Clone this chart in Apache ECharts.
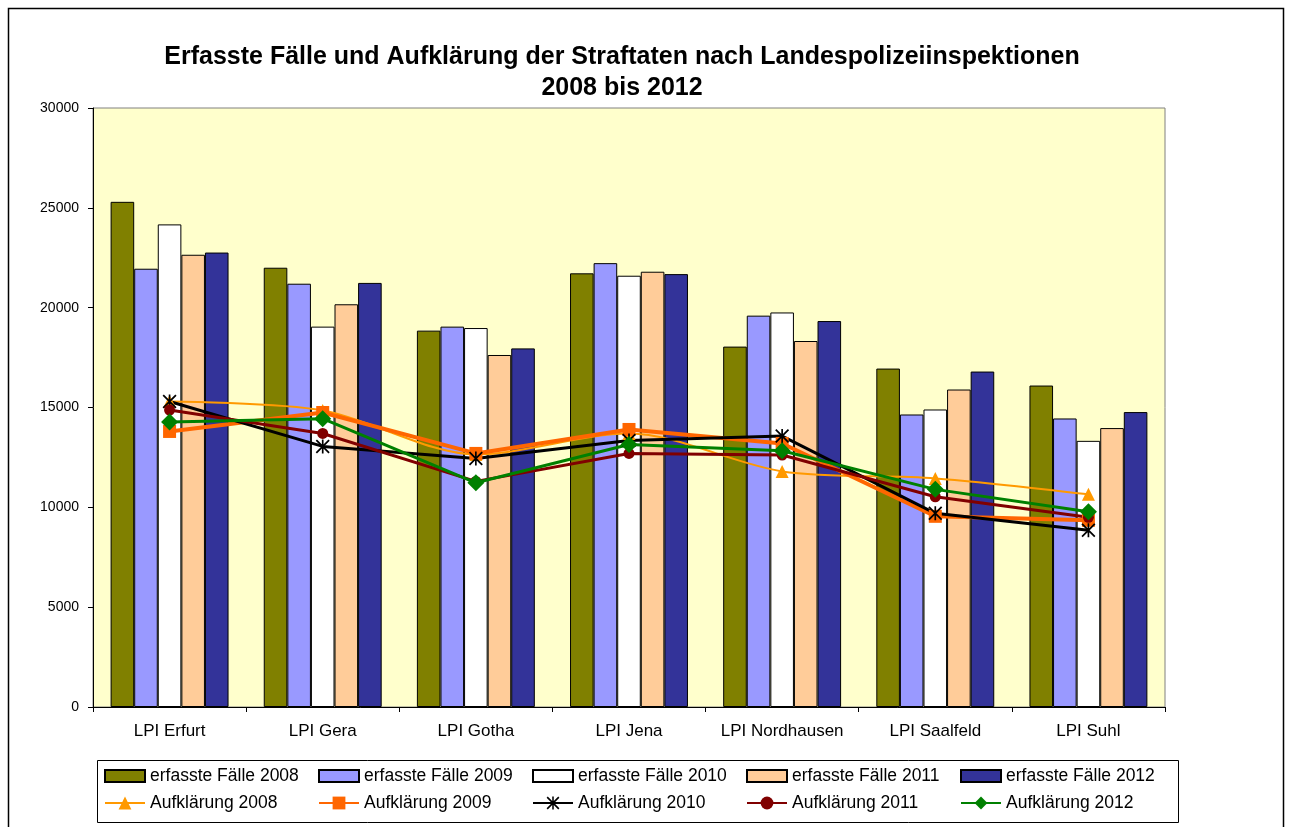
<!DOCTYPE html>
<html>
<head>
<meta charset="utf-8">
<script src="https://cdn.jsdelivr.net/npm/echarts@6/dist/echarts.min.js"></script>
<style>
html,body{margin:0;padding:0;background:#fff;}
#chart{width:1291px;height:827px;}
</style>
</head>
<body>
<div id="chart"></div>
<script>
var categories = ['LPI Erfurt','LPI Gera','LPI Gotha','LPI Jena','LPI Nordhausen','LPI Saalfeld','LPI Suhl'];
var faelle2008 = [25300, 22000, 18850, 21720, 18050, 16950, 16100];
var faelle2009 = [21950, 21200, 19050, 22230, 19600, 14650, 14450];
var faelle2010 = [24170, 19050, 18980, 21600, 19760, 14900, 13330];
var faelle2011 = [22650, 20170, 17630, 21800, 18330, 15900, 13970];
var faelle2012 = [22760, 21240, 17960, 21680, 19330, 16800, 14770];
var aufkl2008 = [15300, 14850, 12650, 13700, 11800, 11450, 10650];
var aufkl2009 = [13800, 14750, 12700, 13900, 13200, 9550, 9350];
var aufkl2010 = [15300, 13050, 12450, 13350, 13570, 9700, 8850];
var aufkl2011 = [14870, 13700, 11300, 12700, 12620, 10530, 9500];
var aufkl2012 = [14270, 14440, 11230, 13150, 12830, 10900, 9780];
var barNames = ['erfasste Fälle 2008','erfasste Fälle 2009','erfasste Fälle 2010','erfasste Fälle 2011','erfasste Fälle 2012'];
var lineNames = ['Aufklärung 2008','Aufklärung 2009','Aufklärung 2010','Aufklärung 2011','Aufklärung 2012'];

var FONT = "'Liberation Sans', Arial, sans-serif";
var starPath = 'path://M4.4 0 L5.6 0 L5.6 10 L4.4 10 Z M0 0.9 L0.9 0 L10 9.1 L9.1 10 Z M9.1 0 L10 0.9 L0.9 10 L0 9.1 Z';

function bar(name, data, color) {
  return {
    name: name, type: 'bar', data: data, barGap: '0%', barCategoryGap: '23%',
    itemStyle: { color: color, borderColor: '#000', borderWidth: 1 },
    emphasis: { disabled: true }
  };
}
function line(name, data, color, width, symbol, size, smooth) {
  return {
    name: name, type: 'line', data: data, smooth: smooth || false,
    symbol: symbol, symbolSize: size, z: 5,
    lineStyle: { color: color, width: width },
    itemStyle: { color: color, borderColor: color, borderWidth: 0 },
    emphasis: { disabled: true }
  };
}

var legendText = { fontFamily: FONT, fontSize: 17.5, color: '#000' };
var legends = [];
barNames.forEach(function (n, i) {
  legends.push({ data: [{ name: n, icon: 'rect', itemStyle: { borderWidth: 2, borderColor: '#000' } }], left: 104 + 214 * i, top: 767, padding: 0, itemGap: 0, itemWidth: 40, itemHeight: 12, textStyle: legendText, selectedMode: false });
});
lineNames.forEach(function (n, i) {
  legends.push({ data: [n], left: 104 + 214 * i, top: 794, padding: 0, itemWidth: 40, itemHeight: 16, textStyle: legendText, selectedMode: false });
});

var chart = echarts.init(document.getElementById('chart'), null, { renderer: 'canvas' });
chart.setOption({
  animation: false,
  backgroundColor: '#fff',
  title: {
    text: 'Erfasste Fälle und Aufklärung der Straftaten nach Landespolizeiinspektionen\n2008 bis 2012',
    left: 622, top: 42, padding: 0, textAlign: 'center',
    textStyle: { fontFamily: FONT, fontSize: 25, fontWeight: 'bold', color: '#000', lineHeight: 31 }
  },
  graphic: [
    { type: 'rect', shape: { x: 8.5, y: 8.5, width: 1275, height: 840 }, style: { fill: 'none', stroke: '#000', lineWidth: 1.5 }, silent: true },
    { type: 'rect', shape: { x: 97.5, y: 760.5, width: 1081, height: 62 }, style: { fill: 'none', stroke: '#000', lineWidth: 1 }, silent: true }
  ],
  legend: legends,
  grid: {
    left: 93, top: 108, right: 126, bottom: 120, show: true,
    backgroundColor: '#FFFFCC', borderColor: '#808080', borderWidth: 1
  },
  xAxis: {
    type: 'category', data: categories, boundaryGap: true,
    axisLine: { lineStyle: { color: '#000', width: 1 } },
    axisTick: { show: true, length: 5, interval: 0, lineStyle: { color: '#000' } },
    axisLabel: { fontFamily: FONT, fontSize: 17, color: '#000', margin: 16, interval: 0, hideOverlap: false }
  },
  yAxis: {
    type: 'value', min: 0, max: 30000, interval: 5000,
    axisLine: { show: true, lineStyle: { color: '#000', width: 1 } },
    axisTick: { show: true, length: 5, lineStyle: { color: '#000' } },
    splitLine: { show: false },
    axisLabel: { fontFamily: FONT, fontSize: 14, color: '#000', margin: 14, formatter: function (v) { return String(v); } }
  },
  series: [
    bar(barNames[0], faelle2008, '#808000'),
    bar(barNames[1], faelle2009, '#9999FF'),
    bar(barNames[2], faelle2010, '#FFFFFF'),
    bar(barNames[3], faelle2011, '#FFCC99'),
    bar(barNames[4], faelle2012, '#333399'),
    line(lineNames[0], aufkl2008, '#FF9900', 2, 'triangle', 13, 0.3),
    line(lineNames[1], aufkl2009, '#FF6600', 4, 'rect', 13),
    line(lineNames[2], aufkl2010, '#000000', 3, starPath, 14),
    line(lineNames[3], aufkl2011, '#800000', 3, 'circle', 11),
    line(lineNames[4], aufkl2012, '#008000', 3, 'diamond', 17)
  ]
});
</script>
</body>
</html>
